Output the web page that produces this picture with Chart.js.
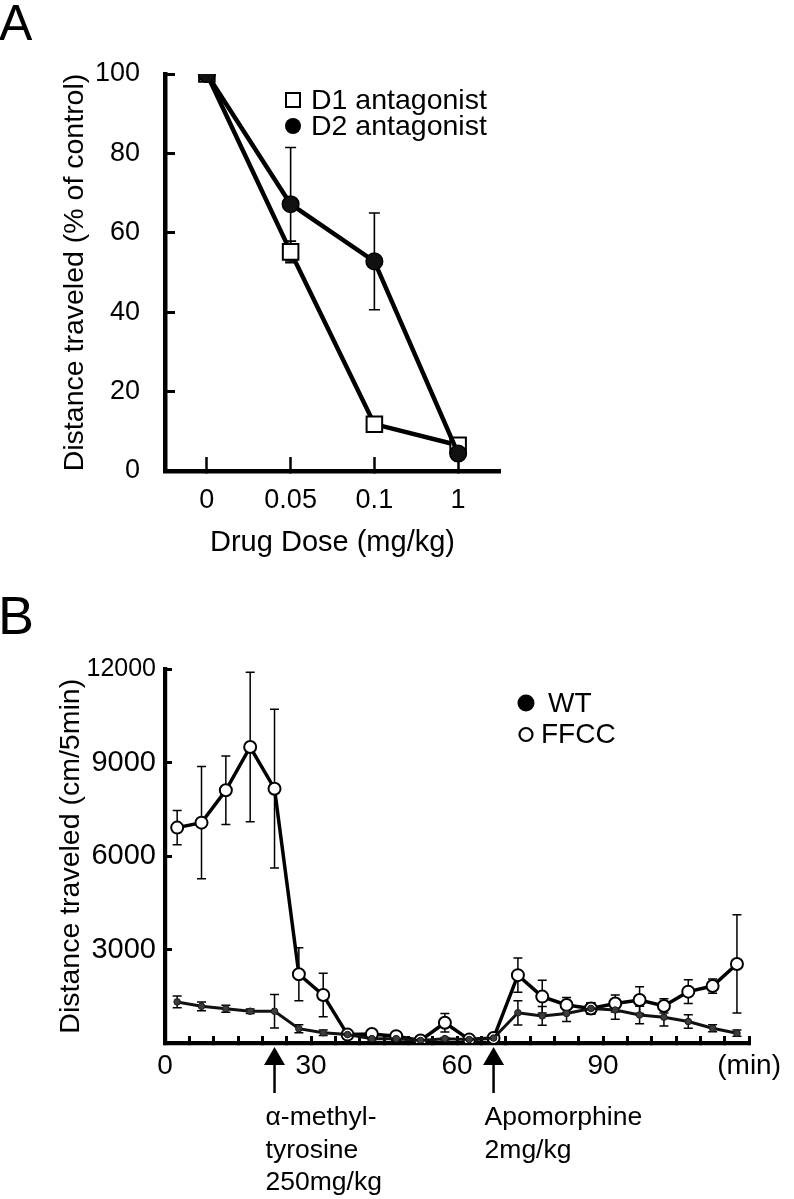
<!DOCTYPE html>
<html><head><meta charset="utf-8">
<script src="https://cdn.jsdelivr.net/npm/chart.js@4.4.1/dist/chart.umd.min.js"></script>
<style>
html,body{margin:0;padding:0;background:#fff;}
#wrapA{position:absolute;left:0;top:0;width:794px;height:590px;}
#wrapB{position:absolute;left:0;top:595px;width:794px;height:604px;}
canvas{display:block;}
</style></head><body>
<div id="wrapA"><canvas id="chartA" width="794" height="590"></canvas></div>
<div id="wrapB"><canvas id="chartB" width="794" height="604"></canvas></div>
<script>
// ---------- Panel A data ----------
const doseLabels = ['0', '0.05', '0.1', '1'];
const d1Values = [100, 55.2, 11.8, 6.5];
const d1Errors = [0, 2.7, 1.2, 1.0];
const d2Values = [100, 67.2, 52.8, 4.4];
const d2Errors = [0, 14.3, 12.2, 0.8];

// ---------- Panel B data ----------
const timePoints = [2.5, 7.5, 12.5, 17.5, 22.5, 27.5, 32.5, 37.5, 42.5, 47.5, 52.5, 57.5,
                    62.5, 67.5, 72.5, 77.5, 82.5, 87.5, 92.5, 97.5, 102.5, 107.5, 112.5, 117.5];
const wtValues = [1320, 1180, 1100, 1020, 1020, 460, 330, 270, 140, 140, 80, 140,
                  110, 160, 970, 870, 950, 1110, 1060, 900, 830, 690, 475, 315];
const wtErrors = [190, 140, 110, 70, 540, 130, 90, 50, 40, 40, 30, 40,
                  30, 40, 390, 300, 260, 180, 300, 280, 280, 220, 110, 100];
const ffccValues = [6920, 7080, 8120, 9510, 8170, 2210, 1540, 270, 290, 220, 80, 650,
                    110, 160, 2180, 1490, 1220, 1110, 1270, 1380, 1190, 1650, 1830, 2540];
const ffccErrors = [550, 1800, 1100, 2400, 2550, 850, 700, 60, 60, 60, 50, 300,
                    50, 60, 550, 530, 240, 180, 270, 430, 230, 380, 230, 1580];
const xLabelsB = {0: '0', 30: '30', 60: '60', 90: '90', 120: '(min)'};
const injectionTimes = [22.5, 67.5];
const injectionLabels = [['\u03b1-methyl-', 'tyrosine', '250mg/kg'], ['Apomorphine', '2mg/kg']];

const FONT = '"Liberation Sans", Arial, Helvetica, sans-serif';
Chart.defaults.font.family = FONT;
Chart.defaults.color = '#000';

// ---------- plugins ----------
const errorBars = {
  id: 'errorBars',
  beforeDatasetsDraw(chart, args, opts) {
    const ctx = chart.ctx;
    const ys = chart.scales.y;
    ctx.save();
    ctx.strokeStyle = opts.color;
    ctx.lineWidth = opts.width;
    chart.data.datasets.forEach((ds, i) => {
      const errs = opts.errors[i];
      if (!errs) return;
      const meta = chart.getDatasetMeta(i);
      meta.data.forEach((pt, j) => {
        const e = errs[j];
        if (!e) return;
        const raw = ds.data[j];
        const val = (typeof raw === 'object') ? raw.y : raw;
        const x = pt.x;
        const yT = ys.getPixelForValue(val + e);
        const yB = ys.getPixelForValue(Math.max(val - e, 0));
        ctx.beginPath();
        ctx.moveTo(x, yT); ctx.lineTo(x, yB);
        ctx.moveTo(x - opts.cap, yT); ctx.lineTo(x + opts.cap, yT);
        ctx.moveTo(x - opts.cap, yB); ctx.lineTo(x + opts.cap, yB);
        ctx.stroke();
      });
    });
    ctx.restore();
  }
};

const customLegend = {
  id: 'customLegend',
  afterDraw(chart, args, opts) {
    const ctx = chart.ctx;
    ctx.save();
    opts.items.forEach(it => {
      const ds = chart.data.datasets[it.dataset];
      ctx.lineWidth = it.lineWidth;
      ctx.strokeStyle = '#000';
      ctx.fillStyle = it.fill;
      ctx.beginPath();
      if (it.shape === 'rect') {
        ctx.rect(it.mx - it.size / 2, it.my - it.size / 2, it.size, it.size);
      } else {
        ctx.arc(it.mx, it.my, it.size / 2, 0, Math.PI * 2);
      }
      ctx.fill();
      if (it.lineWidth > 0) ctx.stroke();
      ctx.fillStyle = '#000';
      ctx.font = opts.size + 'px ' + FONT;
      ctx.textAlign = 'left';
      ctx.textBaseline = 'middle';
      ctx.fillText(ds.label, it.tx, it.my + 1);
    });
    ctx.restore();
  }
};

const panelLetter = {
  id: 'panelLetter',
  afterDraw(chart, args, opts) {
    const ctx = chart.ctx;
    ctx.save();
    ctx.fillStyle = '#000';
    ctx.font = opts.size + 'px ' + FONT;
    ctx.textAlign = 'left';
    ctx.textBaseline = 'alphabetic';
    ctx.fillText(opts.text, opts.x, opts.y);
    ctx.restore();
  }
};

const injections = {
  id: 'injections',
  afterDraw(chart, args, opts) {
    const ctx = chart.ctx;
    const xs = chart.scales.x;
    const base = chart.chartArea.bottom;
    ctx.save();
    ctx.fillStyle = '#000';
    ctx.strokeStyle = '#000';
    opts.times.forEach((t, i) => {
      const x = xs.getPixelForValue(t);
      ctx.beginPath();
      ctx.moveTo(x, base + 4);
      ctx.lineTo(x + 10.5, base + 22);
      ctx.lineTo(x - 10.5, base + 22);
      ctx.closePath();
      ctx.fill();
      ctx.lineWidth = 2.5;
      ctx.beginPath();
      ctx.moveTo(x, base + 20);
      ctx.lineTo(x, base + 50);
      ctx.stroke();
      ctx.font = opts.size + 'px ' + FONT;
      ctx.textAlign = 'left';
      ctx.textBaseline = 'alphabetic';
      opts.labels[i].forEach((line, k) => {
        ctx.fillText(line, x - 9, base + 82 + k * 32.5);
      });
    });
    ctx.restore();
  }
};

// ---------- Chart A ----------
new Chart(document.getElementById('chartA'), {
  type: 'line',
  data: {
    labels: doseLabels,
    datasets: [
      {
        label: 'D1 antagonist',
        data: d1Values,
        borderColor: '#000',
        borderWidth: 4.5,
        pointStyle: 'rect',
        pointRadius: 11,
        pointBackgroundColor: '#fff',
        pointBorderColor: '#000',
        pointBorderWidth: 2,
        tension: 0,
        order: 1
      },
      {
        label: 'D2 antagonist',
        data: d2Values,
        borderColor: '#000',
        borderWidth: 4.5,
        pointStyle: 'circle',
        pointRadius: 8.3,
        pointBackgroundColor: '#111',
        pointBorderColor: '#000',
        pointBorderWidth: 1.5,
        tension: 0,
        order: 0
      }
    ]
  },
  options: {
    responsive: false,
    animation: false,
    devicePixelRatio: 1,
    layout: {padding: {left: 0, right: 294, top: 74, bottom: 0}},
    scales: {
      x: {
        type: 'category',
        offset: true,
        afterFit: s => { s.height = 119; },
        grid: {offset: false, drawOnChartArea: false, drawTicks: true, tickLength: -14, tickWidth: 2.5, tickColor: '#000'},
        border: {display: true, color: '#000', width: 4.5},
        ticks: {padding: 27, font: {size: 27}, color: '#000', maxRotation: 0, autoSkip: false},
        title: {display: true, text: 'Drug Dose (mg/kg)', font: {size: 29}, color: '#000', padding: {top: 0, bottom: 30}}
      },
      y: {
        min: 0, max: 100,
        afterFit: s => { s.width = 165; },
        grid: {drawOnChartArea: false, drawTicks: true, tickLength: -10, tickWidth: 3, tickColor: '#000'},
        border: {display: true, color: '#000', width: 4.5},
        ticks: {stepSize: 20, padding: 35, font: {size: 27}, color: '#000', callback: v => String(v)},
        title: {display: true, text: 'Distance traveled (% of control)', font: {size: 28.5}, color: '#000', padding: {top: 58, bottom: 0}}
      }
    },
    plugins: {
      legend: {display: false},
      tooltip: {enabled: false},
      errorBars: {errors: [d1Errors, d2Errors], color: '#000', width: 1.6, cap: 5.5},
      customLegend: {
        size: 28.5,
        items: [
          {dataset: 0, shape: 'rect', mx: 293, my: 100, size: 14, fill: '#fff', lineWidth: 2, tx: 311},
          {dataset: 1, shape: 'circle', mx: 293, my: 126, size: 16, fill: '#000', lineWidth: 0, tx: 311}
        ]
      },
      panelLetter: {text: 'A', x: -1, y: 40, size: 50}
    }
  },
  plugins: [errorBars, customLegend, panelLetter]
});

// ---------- Chart B ----------
const wtPoints = timePoints.map((t, i) => ({x: t, y: wtValues[i]}));
const ffccPoints = timePoints.map((t, i) => ({x: t, y: ffccValues[i]}));

new Chart(document.getElementById('chartB'), {
  type: 'line',
  data: {
    datasets: [
      {
        label: 'WT',
        data: wtPoints,
        borderColor: '#111',
        borderWidth: 3,
        pointStyle: 'circle',
        pointRadius: 3.3,
        pointBackgroundColor: '#3c3c3c',
        pointBorderColor: '#1a1a1a',
        pointBorderWidth: 1,
        tension: 0,
        order: 0
      },
      {
        label: 'FFCC',
        data: ffccPoints,
        borderColor: '#000',
        borderWidth: 3.5,
        pointStyle: 'circle',
        pointRadius: 6,
        pointBackgroundColor: '#fff',
        pointBorderColor: '#000',
        pointBorderWidth: 2,
        tension: 0,
        order: 1
      }
    ]
  },
  options: {
    responsive: false,
    animation: false,
    devicePixelRatio: 1,
    layout: {padding: {left: 0, right: 42.3, top: 74.5, bottom: 0}},
    scales: {
      x: {
        type: 'linear',
        min: 0, max: 120,
        afterFit: s => { s.height = 156; },
        grid: {drawOnChartArea: false, drawTicks: true, tickLength: -7, tickWidth: 3, tickColor: '#000'},
        border: {display: true, color: '#000', width: 4.2},
        ticks: {
          stepSize: 5, padding: 13, font: {size: 28}, color: '#000', maxRotation: 0, autoSkip: false,
          callback: v => (xLabelsB[v] !== undefined ? xLabelsB[v] : '')
        }
      },
      y: {
        min: 0, max: 12000,
        afterFit: s => { s.width = 165; },
        grid: {drawOnChartArea: false, drawTicks: true, tickLength: -7, tickWidth: 3, tickColor: '#000'},
        border: {display: true, color: '#000', width: 4.2},
        ticks: {
          stepSize: 3000, padding: 16, color: '#000',
          font: c => ({size: (c.tick && c.tick.value === 12000) ? 25 : 29}),
          callback: v => (v === 0 ? '' : String(v))
        },
        title: {display: true, text: 'Distance traveled (cm/5min)', font: {size: 28.5}, color: '#000', padding: {top: 54, bottom: 0}}
      }
    },
    plugins: {
      legend: {display: false},
      tooltip: {enabled: false},
      errorBars: {errors: [wtErrors, ffccErrors], color: '#000', width: 1.5, cap: 4.5},
      customLegend: {
        size: 28,
        items: [
          {dataset: 0, shape: 'circle', mx: 526, my: 108, size: 17, fill: '#000', lineWidth: 0, tx: 548},
          {dataset: 1, shape: 'circle', mx: 526, my: 139.5, size: 13, fill: '#fff', lineWidth: 2.2, tx: 541}
        ]
      },
      panelLetter: {text: 'B', x: -2, y: 39, size: 54},
      injections: {times: injectionTimes, labels: injectionLabels, size: 26.5}
    }
  },
  plugins: [errorBars, customLegend, panelLetter, injections]
});
</script>
</body></html>
